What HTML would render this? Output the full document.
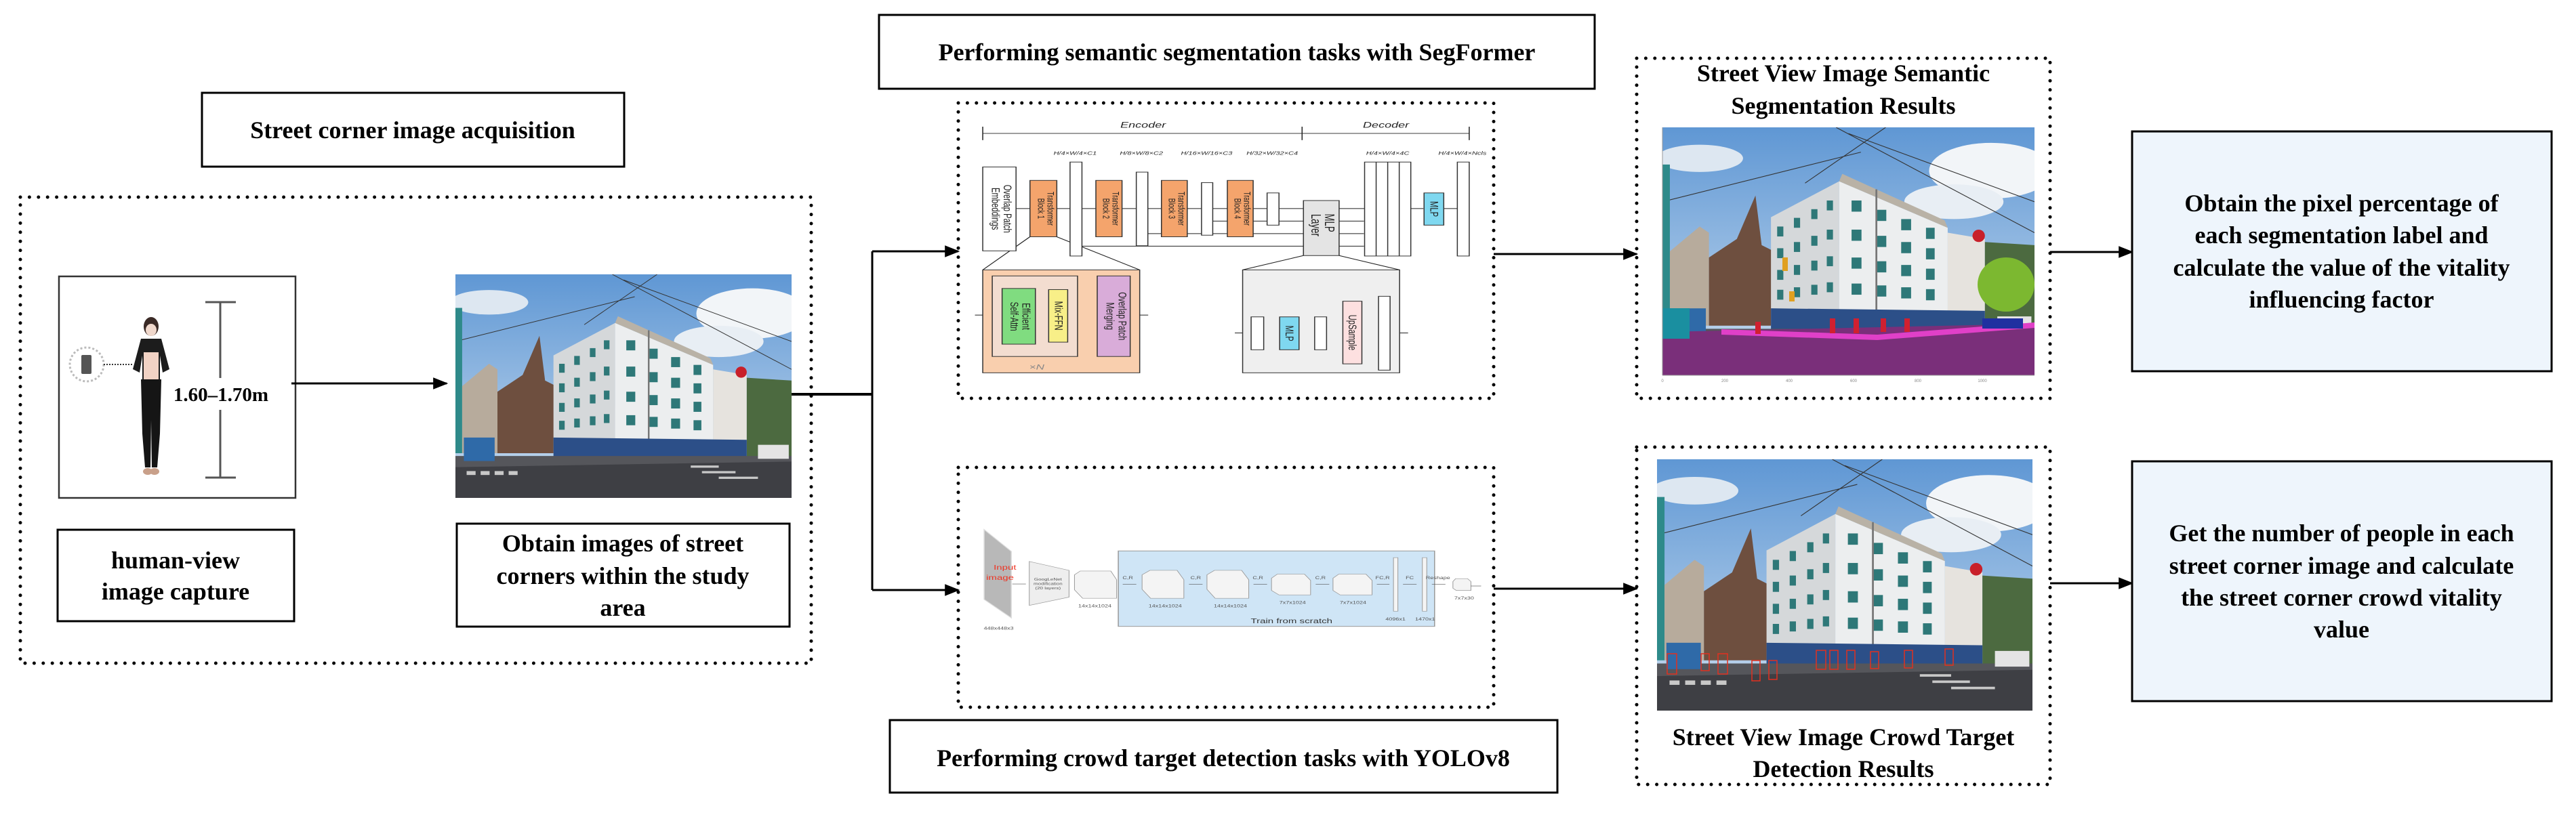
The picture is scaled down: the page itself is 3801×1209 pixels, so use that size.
<!DOCTYPE html>
<html><head><meta charset="utf-8"><style>
html,body{margin:0;padding:0;background:#fff;}
svg{display:block;}
.t{font-family:"Liberation Serif",serif;font-weight:bold;font-size:36px;fill:#000;text-anchor:middle;}
.s{font-family:"Liberation Sans",sans-serif;fill:#222;}
</style></head><body>
<svg width="3801" height="1209" viewBox="0 0 3801 1209" xmlns="http://www.w3.org/2000/svg">
<defs>
<marker id="ab" viewBox="0 0 10 8" refX="9" refY="4" markerWidth="22" markerHeight="18" orient="auto" markerUnits="userSpaceOnUse"><path d="M0,0 L10,4 L0,8 z" fill="#000"/></marker>
<linearGradient id="sky" x1="0" y1="0" x2="0" y2="1"><stop offset="0" stop-color="#5f97d4"/><stop offset="1" stop-color="#c8dcef"/></linearGradient>
<symbol id="photo" viewBox="0 0 600 400" preserveAspectRatio="none">
<rect width="600" height="400" fill="url(#sky)"/>
<ellipse cx="530" cy="70" rx="100" ry="45" fill="#f2f5f8"/>
<ellipse cx="470" cy="120" rx="80" ry="28" fill="#e8eef4"/>
<ellipse cx="60" cy="50" rx="70" ry="22" fill="#dde7f1"/>
<path d="M280,0 L600,170 M360,0 L230,90 M0,120 L320,40 M300,10 L600,120" stroke="#333" stroke-width="1.2" fill="none"/>
<polygon points="0,60 12,60 12,320 0,320" fill="#2e8a8a"/>
<polygon points="12,200 60,160 75,170 75,320 12,320" fill="#b7ab9c"/>
<polygon points="75,210 120,180 150,110 160,190 180,200 180,320 75,320" fill="#6e4f3f"/>
<polygon points="175,145 285,87 285,330 175,325" fill="#d5d8da"/>
<polygon points="285,87 460,162 460,328 285,330" fill="#eceeef"/>
<polygon points="285,87 290,75 455,150 460,162" fill="#b9b2a6"/>
<polygon points="460,170 520,180 520,328 460,328" fill="#e6e3de"/>
<polygon points="520,185 600,190 600,328 520,328" fill="#4c6a40"/>
<g fill="#2e7878">
<rect x="185" y="160" width="10" height="16"/><rect x="212" y="146" width="10" height="16"/><rect x="240" y="132" width="10" height="16"/><rect x="265" y="118" width="10" height="16"/>
<rect x="185" y="195" width="10" height="16"/><rect x="212" y="185" width="10" height="16"/><rect x="240" y="175" width="10" height="16"/><rect x="265" y="165" width="10" height="16"/>
<rect x="185" y="230" width="10" height="16"/><rect x="212" y="222" width="10" height="16"/><rect x="240" y="215" width="10" height="16"/><rect x="265" y="208" width="10" height="16"/>
<rect x="185" y="262" width="10" height="16"/><rect x="212" y="258" width="10" height="16"/><rect x="240" y="254" width="10" height="16"/><rect x="265" y="250" width="10" height="16"/>
<rect x="305" y="118" width="16" height="18"/><rect x="345" y="133" width="16" height="18"/><rect x="385" y="148" width="16" height="18"/><rect x="425" y="162" width="14" height="18"/>
<rect x="305" y="165" width="16" height="18"/><rect x="345" y="175" width="16" height="18"/><rect x="385" y="185" width="16" height="18"/><rect x="425" y="195" width="14" height="18"/>
<rect x="305" y="210" width="16" height="18"/><rect x="345" y="216" width="16" height="18"/><rect x="385" y="222" width="16" height="18"/><rect x="425" y="228" width="14" height="18"/>
<rect x="305" y="252" width="16" height="18"/><rect x="345" y="255" width="16" height="18"/><rect x="385" y="258" width="16" height="18"/><rect x="425" y="261" width="14" height="18"/>
</g>
<line x1="345" y1="100" x2="345" y2="330" stroke="#777" stroke-width="3"/>
<polygon points="175,292 520,296 520,330 175,330" fill="#2c4f88"/>
<rect x="0" y="325" width="600" height="75" fill="#55565b"/>
<polygon points="0,345 600,335 600,400 0,400" fill="#3e3f44"/>
<g fill="#c8c8c8"><rect x="20" y="352" width="16" height="7"/><rect x="45" y="352" width="16" height="7"/><rect x="70" y="352" width="16" height="7"/><rect x="95" y="352" width="16" height="7"/><rect x="420" y="342" width="50" height="4"/><rect x="440" y="352" width="60" height="4"/><rect x="470" y="362" width="70" height="4"/></g>
<rect x="15" y="292" width="55" height="42" fill="#2f6aa8"/>
<rect x="540" y="305" width="55" height="25" fill="#e4e4e4"/>
<circle cx="510" cy="175" r="10" fill="#c8202a"/>
</symbol>
</defs>

<!-- Left section -->
<rect x="298" y="137" width="623" height="109" fill="none" stroke="#000" stroke-width="3"/>
<text class="t" x="609" y="204">Street corner image acquisition</text>
<rect x="30" y="291" width="1167" height="688" fill="none" stroke="#000" stroke-width="5" stroke-dasharray="0 13.4" stroke-linecap="round"/>

<rect x="87" y="408" width="349" height="327" fill="#fff" stroke="#333" stroke-width="2.5"/>
<circle cx="128" cy="538" r="25" fill="none" stroke="#bbb" stroke-width="3" stroke-dasharray="3 3"/>
<rect x="120" y="524" width="15" height="28" rx="2" fill="#555"/>
<line x1="153" y1="538" x2="195" y2="538" stroke="#333" stroke-width="2" stroke-dasharray="2 2"/>
<ellipse cx="223" cy="482" rx="11" ry="14" fill="#3a2a26"/>
<ellipse cx="223" cy="487" rx="8" ry="9" fill="#f0d8cc"/>
<path d="M208,500 L238,500 L250,545 L240,550 L236,525 L236,560 L210,560 L210,525 L206,550 L196,545 Z" fill="#1c1c1c"/>
<rect x="212" y="520" width="22" height="40" fill="#f1d2c4"/>
<path d="M208,560 L238,560 L236,640 L232,690 L224,690 L223,620 L222,690 L214,690 L210,640 Z" fill="#151515"/>
<ellipse cx="218" cy="696" rx="7" ry="5" fill="#c9a08a"/><ellipse cx="228" cy="696" rx="7" ry="5" fill="#c9a08a"/>
<g stroke="#555" stroke-width="3"><line x1="303" y1="446" x2="348" y2="446"/><line x1="303" y1="705" x2="348" y2="705"/><line x1="325" y1="446" x2="325" y2="558"/><line x1="325" y1="605" x2="325" y2="705"/></g>
<text class="t" x="326" y="592" style="font-size:29px">1.60–1.70m</text>

<rect x="85" y="782" width="349" height="135" fill="none" stroke="#000" stroke-width="3"/>
<text class="t" x="259" y="839">human-view</text>
<text class="t" x="259" y="885">image capture</text>

<line x1="430" y1="566" x2="659" y2="566" stroke="#000" stroke-width="3" marker-end="url(#ab)"/>
<use href="#photo" x="672" y="405" width="496" height="330"/>
<rect x="674" y="773" width="491" height="152" fill="none" stroke="#000" stroke-width="3"/>
<text class="t" x="919" y="814">Obtain images of street</text>
<text class="t" x="919" y="862">corners within the study</text>
<text class="t" x="919" y="909">area</text>

<!-- connectors -->
<polyline points="1168,582 1287,582" stroke="#000" stroke-width="4" fill="none"/>
<line x1="1287" y1="371" x2="1287" y2="871" stroke="#000" stroke-width="3"/>
<line x1="1287" y1="371" x2="1414" y2="371" stroke="#000" stroke-width="3" marker-end="url(#ab)"/>
<line x1="1287" y1="871" x2="1414" y2="871" stroke="#000" stroke-width="3" marker-end="url(#ab)"/>

<!-- SegFormer -->
<rect x="1297" y="22" width="1056" height="109" fill="none" stroke="#000" stroke-width="3"/>
<text class="t" x="1825" y="89">Performing semantic segmentation tasks with SegFormer</text>
<rect x="1414" y="152" width="790" height="436" fill="none" stroke="#000" stroke-width="5" stroke-dasharray="0 13.4" stroke-linecap="round"/>
<svg x="1416" y="154" width="786" height="432" viewBox="0 0 1568 1308" preserveAspectRatio="none">
<g stroke="#222" stroke-width="3" fill="none">
<line x1="68" y1="130" x2="1500" y2="130"/><line x1="68" y1="100" x2="68" y2="160"/><line x1="1008" y1="100" x2="1008" y2="160"/><line x1="1500" y1="100" x2="1500" y2="160"/>
<line x1="166" y1="466" x2="1365" y2="466"/>
<line x1="745" y1="522" x2="1190" y2="522"/><line x1="554" y1="578" x2="1190" y2="578"/><line x1="360" y1="634" x2="1190" y2="634"/>
<line x1="1425" y1="466" x2="1465" y2="466"/>
<line x1="207" y1="592" x2="68" y2="740"/><line x1="286" y1="592" x2="530" y2="740"/>
<line x1="1012" y1="676" x2="833" y2="740"/><line x1="1117" y1="676" x2="1295" y2="740"/>
<line x1="45" y1="942" x2="555" y2="942"/><line x1="810" y1="1022" x2="1320" y2="1022"/>
</g>
<text class="s" x="540" y="105" font-size="36" font-style="italic" text-anchor="middle">Encoder</text>
<text class="s" x="1255" y="105" font-size="36" font-style="italic" text-anchor="middle">Decoder</text>
<g class="s" font-size="22" font-family="Liberation Serif" text-anchor="middle" font-style="italic">
<text x="340" y="225">H/4×W/4×C1</text><text x="535" y="225">H/8×W/8×C2</text><text x="727" y="225">H/16×W/16×C3</text><text x="920" y="225">H/32×W/32×C4</text><text x="1260" y="225">H/4×W/4×4C</text><text x="1480" y="225">H/4×W/4×Ncls</text>
<text x="910" y="795" font-size="20">H/2ⁱ⁺¹×W/2ⁱ⁺¹×Ci</text><text x="1085" y="795" font-size="20">H/2ⁱ⁺¹×W/2ⁱ⁺¹×C</text><text x="1238" y="795" font-size="20">H/4×W/4×C</text>
</g>
<g stroke="#333" stroke-width="3">
<rect x="68" y="280" width="98" height="375" fill="#fff"/>
<rect x="207" y="340" width="79" height="252" fill="#f4a46c"/><rect x="401" y="340" width="77" height="252" fill="#f4a46c"/><rect x="594" y="340" width="76" height="252" fill="#f4a46c"/><rect x="788" y="340" width="76" height="252" fill="#f4a46c"/>
<rect x="325" y="258" width="35" height="420" fill="#fff"/><rect x="520" y="303" width="34" height="329" fill="#fff"/><rect x="712" y="350" width="33" height="235" fill="#fff"/><rect x="905" y="396" width="35" height="144" fill="#fff"/>
<rect x="1012" y="430" width="105" height="246" fill="#e4e4e4"/>
<rect x="1192" y="258" width="136" height="420" fill="#fff"/>
<line x1="1226" y1="258" x2="1226" y2="678"/><line x1="1260" y1="258" x2="1260" y2="678"/><line x1="1294" y1="258" x2="1294" y2="678"/>
<rect x="1367" y="396" width="58" height="144" fill="#7fd8f0"/>
<rect x="1465" y="258" width="35" height="420" fill="#fff"/>
<rect x="68" y="740" width="462" height="460" fill="#f9cfae"/>
<rect x="96" y="767" width="251" height="360" fill="#f3ddd0"/>
<rect x="125" y="823" width="98" height="249" fill="#80dc80"/>
<rect x="262" y="828" width="56" height="235" fill="#f8ef88"/>
<rect x="405" y="767" width="97" height="360" fill="#d9acd9"/>
<rect x="833" y="740" width="462" height="460" fill="#efefef"/>
<rect x="858" y="950" width="37" height="147" fill="#fff"/>
<rect x="942" y="950" width="57" height="147" fill="#7fd8f0"/>
<rect x="1045" y="950" width="35" height="147" fill="#fff"/>
<rect x="1128" y="880" width="56" height="280" fill="#fde0e0"/>
<rect x="1233" y="858" width="34" height="330" fill="#fff"/>
</g>
<g class="s" font-size="34" text-anchor="middle">
<text transform="translate(130,467) rotate(90)">Overlap Patch</text><text transform="translate(95,467) rotate(90)">Embeddings</text>
<text transform="translate(258,466) rotate(90)" font-size="28">Transformer</text><text transform="translate(230,466) rotate(90)" font-size="28">Block 1</text>
<text transform="translate(450,466) rotate(90)" font-size="28">Transformer</text><text transform="translate(422,466) rotate(90)" font-size="28">Block 2</text>
<text transform="translate(643,466) rotate(90)" font-size="28">Transformer</text><text transform="translate(615,466) rotate(90)" font-size="28">Block 3</text>
<text transform="translate(837,466) rotate(90)" font-size="28">Transformer</text><text transform="translate(809,466) rotate(90)" font-size="28">Block 4</text>
<text transform="translate(1075,530) rotate(90)" font-size="40">MLP</text><text transform="translate(1035,540) rotate(90)" font-size="40">Layer</text>
<text transform="translate(1385,468) rotate(90)">MLP</text>
<text transform="translate(185,948) rotate(90)">Efficient</text><text transform="translate(150,948) rotate(90)">Self-Attn</text>
<text transform="translate(280,945) rotate(90)">Mix-FFN</text>
<text transform="translate(468,947) rotate(90)">Overlap Patch</text><text transform="translate(432,947) rotate(90)">Merging</text>
<text transform="translate(960,1024) rotate(90)">MLP</text>
<text transform="translate(1145,1020) rotate(90)">UpSample</text>
<text x="227" y="1185" fill="#888" font-style="italic">×N</text>
</g>
</svg>

<!-- YOLO -->
<rect x="1414" y="690" width="790" height="354" fill="none" stroke="#000" stroke-width="5" stroke-dasharray="0 13.4" stroke-linecap="round"/>
<svg x="1416" y="692" width="786" height="350" viewBox="0 0 1568 1062" preserveAspectRatio="none">
<polygon points="72,272 152,370 152,668 72,585" fill="#b8b8b8" stroke="#ddd" stroke-width="3"/>
<text x="100" y="452" font-family="Liberation Sans" font-size="30" fill="#e32">Input</text>
<text x="78" y="498" font-family="Liberation Sans" font-size="30" fill="#e32">image</text>
<polygon points="205,415 322,455 322,575 205,612" fill="#eee" stroke="#999" stroke-width="2"/>
<rect x="467" y="368" width="931" height="338" fill="#cfe5f6" stroke="#999" stroke-width="3"/>
<g fill="#f4f4f4" stroke="#999" stroke-width="2">
<polygon points="338,475 355,458 445,458 462,497 462,580 362,580 338,542"/>
<polygon points="537,475 560,455 640,455 660,497 660,580 562,580 537,540"/>
<polygon points="728,475 750,455 830,455 851,497 851,580 752,580 728,540"/>
<polygon points="918,490 935,472 1015,472 1033,500 1033,565 940,565 918,545"/>
<polygon points="1099,490 1116,472 1196,472 1214,500 1214,565 1120,565 1099,545"/>
<polygon points="1452,505 1460,492 1495,492 1505,505 1505,545 1462,545 1452,535"/>
<rect x="1277" y="398" width="13" height="240"/><rect x="1362" y="398" width="13" height="240"/>
</g>
<g stroke="#555" stroke-width="2"><line x1="155" y1="516" x2="195" y2="516"/><line x1="480" y1="518" x2="520" y2="518"/><line x1="675" y1="518" x2="715" y2="518"/><line x1="865" y1="518" x2="905" y2="518"/><line x1="1048" y1="518" x2="1088" y2="518"/><line x1="1228" y1="518" x2="1265" y2="518"/><line x1="1305" y1="518" x2="1345" y2="518"/><line x1="1390" y1="518" x2="1430" y2="518"/><line x1="1505" y1="525" x2="1535" y2="525"/></g>
<g font-family="Liberation Sans" fill="#555" font-size="18" text-anchor="middle">
<text x="495" y="495">C,R</text><text x="695" y="495">C,R</text><text x="878" y="495">C,R</text><text x="1062" y="495">C,R</text><text x="1245" y="495">FC,R</text><text x="1325" y="495">FC</text><text x="1408" y="495">Reshape</text>
<text x="398" y="620">14x14x1024</text><text x="605" y="620">14x14x1024</text><text x="797" y="620">14x14x1024</text><text x="980" y="606">7x7x1024</text><text x="1158" y="606">7x7x1024</text><text x="1485" y="585">7x7x30</text>
<text x="1283" y="680">4096x1</text><text x="1370" y="680">1470x1</text><text x="115" y="720">448x448x3</text>
<text x="260" y="500" font-size="16">GoogLeNet</text><text x="260" y="520" font-size="16">modification</text><text x="260" y="540" font-size="16">(20 layers)</text>
<text x="977" y="692" font-size="30" fill="#333">Train from scratch</text>
</g>
</svg>
<rect x="1313" y="1063" width="985" height="107" fill="none" stroke="#000" stroke-width="3"/>
<text class="t" x="1805" y="1131">Performing crowd target detection tasks with YOLOv8</text>

<line x1="2204" y1="375" x2="2415" y2="375" stroke="#000" stroke-width="3" marker-end="url(#ab)"/>
<line x1="2204" y1="869" x2="2415" y2="869" stroke="#000" stroke-width="3" marker-end="url(#ab)"/>

<!-- Seg result -->
<rect x="2415" y="86" width="610" height="502" fill="none" stroke="#000" stroke-width="5" stroke-dasharray="0 13.4" stroke-linecap="round"/>
<text class="t" x="2720" y="120">Street View Image Semantic</text>
<text class="t" x="2720" y="168">Segmentation Results</text>
<use href="#photo" x="2453" y="188" width="549" height="366"/>
<g>
<polygon points="2453,490 3002,478 3002,554 2453,554" fill="#7a2f7a"/>
<polygon points="2540,486 2770,494 3002,476 3002,484 2770,502 2540,494" fill="#e040c8"/>
<rect x="2453" y="455" width="40" height="45" fill="#1a8fa0"/>
<ellipse cx="2960" cy="420" rx="42" ry="40" fill="#7cb830"/>
<rect x="2925" y="470" width="60" height="15" fill="#2030a0"/>
<g fill="#d02030"><rect x="2590" y="475" width="8" height="18"/><rect x="2700" y="470" width="8" height="22"/><rect x="2735" y="470" width="8" height="22"/><rect x="2775" y="470" width="8" height="20"/><rect x="2810" y="470" width="8" height="20"/></g>
<g fill="#e0a020"><rect x="2630" y="380" width="8" height="20"/><rect x="2640" y="430" width="8" height="15"/></g>
</g>
<g stroke="#999" stroke-width="1"><line x1="2453" y1="188" x2="2453" y2="554"/><line x1="2453" y1="554" x2="3002" y2="554"/></g>
<g font-family="Liberation Sans" font-size="6" fill="#888" text-anchor="middle"><text x="2453" y="564">0</text><text x="2545" y="564">200</text><text x="2640" y="564">400</text><text x="2735" y="564">600</text><text x="2830" y="564">800</text><text x="2925" y="564">1000</text></g>

<!-- YOLO result -->
<rect x="2415" y="660" width="610" height="498" fill="none" stroke="#000" stroke-width="5" stroke-dasharray="0 13.4" stroke-linecap="round"/>
<use href="#photo" x="2445" y="678" width="554" height="371"/>
<g fill="none" stroke="#e03020" stroke-width="1.5">
<rect x="2535" y="965" width="14" height="30"/><rect x="2585" y="975" width="12" height="30"/><rect x="2610" y="975" width="12" height="28"/><rect x="2680" y="960" width="14" height="28"/><rect x="2700" y="960" width="12" height="28"/><rect x="2725" y="960" width="12" height="28"/><rect x="2760" y="962" width="12" height="25"/><rect x="2810" y="960" width="12" height="26"/><rect x="2870" y="958" width="12" height="24"/><rect x="2460" y="965" width="14" height="30"/><rect x="2510" y="965" width="12" height="25"/>
</g>
<text class="t" x="2720" y="1100">Street View Image Crowd Target</text>
<text class="t" x="2720" y="1147">Detection Results</text>

<!-- right boxes -->
<line x1="3025" y1="372" x2="3146" y2="372" stroke="#000" stroke-width="3" marker-end="url(#ab)"/>
<line x1="3025" y1="861" x2="3146" y2="861" stroke="#000" stroke-width="3" marker-end="url(#ab)"/>
<rect x="3146" y="194" width="619" height="354" fill="#eef5fc" stroke="#000" stroke-width="3"/>
<text class="t" x="3455" y="312">Obtain the pixel percentage of</text>
<text class="t" x="3455" y="359">each segmentation label and</text>
<text class="t" x="3455" y="407">calculate the value of the vitality</text>
<text class="t" x="3455" y="454">influencing factor</text>
<rect x="3146" y="681" width="619" height="354" fill="#eef5fc" stroke="#000" stroke-width="3"/>
<text class="t" x="3455" y="799">Get the number of people in each</text>
<text class="t" x="3455" y="847">street corner image and calculate</text>
<text class="t" x="3455" y="894">the street corner crowd vitality</text>
<text class="t" x="3455" y="941">value</text>
</svg>
</body></html>
